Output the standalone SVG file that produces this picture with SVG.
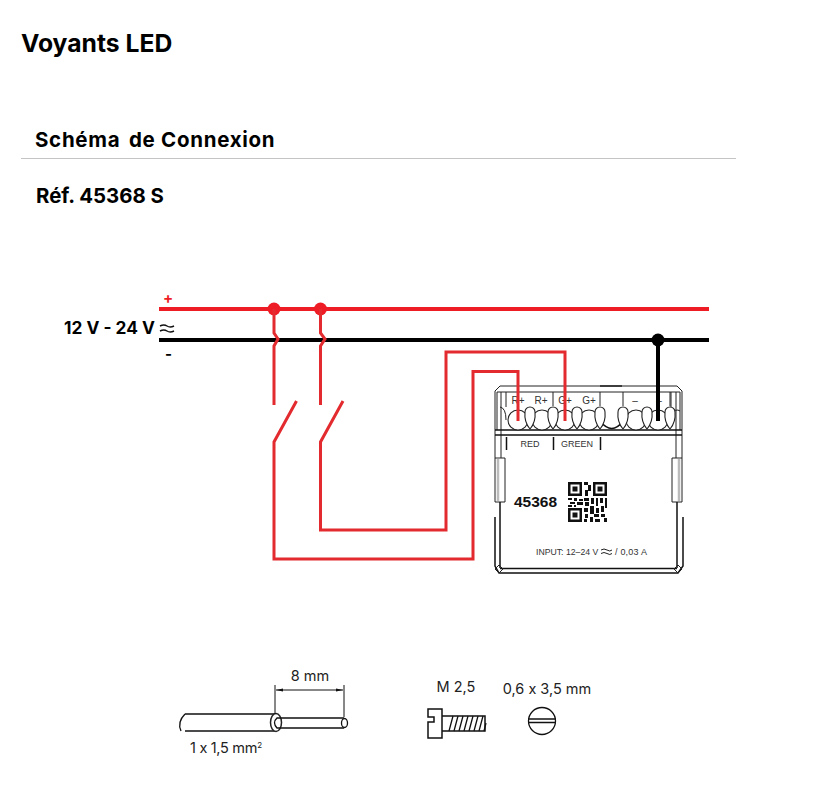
<svg xmlns="http://www.w3.org/2000/svg" width="816" height="800" viewBox="0 0 816 800">
<style>
text{font-family:"Lato","Inter","Liberation Sans",sans-serif;fill:#000}
.t{font-family:"Inter","Liberation Sans",sans-serif;font-weight:700}
.d{font-family:"Liberation Sans",sans-serif;fill:#333}
.s{font-family:"Inter","Liberation Sans",sans-serif;font-variant-ligatures:no-contextual;font-feature-settings:"calt" 0;fill:#222}
.rt{fill:none;stroke:#e32a2e;stroke-width:3}
.o{fill:none;stroke:#222;stroke-width:1}
.o2{fill:none;stroke:#111;stroke-width:1.500}
.a{fill:#fff;stroke:#222;stroke-width:1.100}
</style>
<rect width="816" height="800" fill="#fff"/>
<g id="titles">
<text class="t" x="21" y="52" font-size="24.700">Voyants LED</text>
<text class="t" x="35" y="147" font-size="20.500" letter-spacing="0.700">Schéma</text>
<text class="t" x="129" y="147" font-size="20.500" letter-spacing="0.700">de Connexion</text>
<line x1="21" y1="158.500" x2="736" y2="158.500" stroke="#c4c4c4"/>
<text class="t" x="36" y="203" font-size="20.400">Réf. 45368 S</text>
</g>
<g id="supply">
<text class="t" x="163" y="303" font-size="15" style="fill:#ee1c25">+</text>
<text class="t" x="64" y="334" font-size="17.300">12 V - 24 V</text>
<path class="o2" d="M160 326q4-2 7 0t7 0M160 331q4-2 7 0t7 0"/>
<text class="t" x="165" y="359" font-size="15">-</text>
</g>
<g id="device">
<path class="o" d="M500 386H677L682 391V430M495 391L500 386M495 391V458M682 458V430"/>
<path class="o" d="M497 392H680M497 392V430M680 392V430M501 392V458M676 392V458M506 392V407M671 392V407"/>
<path class="o2" d="M495 430H682M495 435H682"/>
<path class="o" d="M495 458H505V502H495ZM682 458H672V502H682Z"/>
<path d="M498 459V501M679 459V501" stroke="#bbb" stroke-width="2.500" fill="none"/>
<path class="o2" d="M500 502V568M677 502V568M495 517V566L499 573H678L683 566V517M500 568.500H677"/>
<path class="o" d="M495 569L499 565L503 569L499 573ZM682 569L678 565L674 569L678 573Z"/>
<path class="o" d="M500 407Q506 408 506 420M680 411Q676 408 671 414"/>
<path class="o2" d="M600 421Q612 436 623 421" fill="none"/>
<circle class="a" cx="518" cy="420" r="10"/><circle class="a" cx="542" cy="420" r="10"/><circle class="a" cx="565" cy="420" r="10"/><circle class="a" cx="589" cy="420" r="10"/><circle class="a" cx="636" cy="420" r="10"/><circle class="a" cx="658" cy="420" r="10"/>
<path class="a" d="M525 412a5 5 0 0 1 10 0Q536 422 530 429Q524 422 525 412ZM548 412a5 5 0 0 1 10 0Q559 422 553 429Q547 422 548 412ZM572 412a5 5 0 0 1 10 0Q583 422 577 429Q571 422 572 412ZM595 412a5 5 0 0 1 10 0Q606 422 600 429Q594 422 595 412ZM618 412a5 5 0 0 1 10 0Q629 422 623 429Q617 422 618 412ZM642 412a5 5 0 0 1 10 0Q653 422 647 429Q641 422 642 412ZM665 412a5 5 0 0 1 10 0Q676 422 670 429Q664 422 665 412Z"/>
<path class="o" d="M553 392V406M600 392V406M623 392V406M670 392V406"/>
<path d="M600 386H622" stroke="#222" stroke-width="1.500"/>
<g style="font-size:10px">
<text class="d" x="518" y="404" text-anchor="middle">R+</text>
<text class="d" x="541" y="404" text-anchor="middle">R+</text>
<text class="d" x="565" y="404" text-anchor="middle">G+</text>
<text class="d" x="589" y="404" text-anchor="middle">G+</text>
<text class="d" x="635" y="404" text-anchor="middle">–</text>
<text class="d" x="659" y="404" text-anchor="middle">–</text>
<text class="d" x="530" y="447" text-anchor="middle" style="font-size:9px">RED</text>
<text class="d" x="577" y="447" text-anchor="middle" style="font-size:9px">GREEN</text>
</g>
<path d="M506.500 437V450M553.500 437V450M600.500 437V450" stroke="#111" stroke-width="1.500" fill="none"/>
<text x="514" y="507" font-size="15.500" style="font-family:'Liberation Sans';font-weight:700;fill:#111">45368</text>
<g id="qr" fill="#111">
<path fill-rule="evenodd" d="M568 482h14v14h-14zM570.500 484.500v9h9v-9zM593 482h14v14h-14zM595.500 484.500v9h9v-9zM568 508h14v14h-14zM570.500 510.500v9h9v-9z"/>
<path d="M572.500 486.500h5v5h-5zM597.500 486.500h5v5h-5zM572.500 512.500h5v5h-5z"/>
<path d="M584 482h4v3h-4zM588 485h3v6h-3zM585 490h3v6h-3zM584 498h5v3h-5zM568 498h4v2h-4zM574 498h3v3h-3zM579 499h4v2h-4zM591 498h3v6h-3zM596 498h2v8h-2zM600 498h3v5h-3zM605 498h2v10h-2zM570 502h5v2h-5zM577 502h6v3h-6zM585 502h4v4h-4zM568 505h4v2h-4zM574 505h2v2h-2zM584 508h4v4h-4zM590 506h4v8h-4zM596 508h3v5h-3zM601 506h3v6h-3zM585 514h3v4h-3zM594 514h5v3h-5zM601 514h4v3h-4zM584 519h3v3h-3zM590 517h3v5h-3zM595 519h5v3h-5zM604 518h3v4h-3z"/>
</g>
<text class="d" x="536" y="555" font-size="8.700">INPUT: 12–24 V</text>
<path d="M601 550q3-2 6 0t5 0M601 553.500q3-2 6 0t5 0" fill="none" stroke="#222"/>
<text class="d" x="615" y="555" font-size="9" letter-spacing="0.200">/ 0,03 A</text>
</g>
<g id="connectors">
<line x1="159" y1="309" x2="709" y2="309" stroke="#ee1c25" stroke-width="4"/>
<line x1="159" y1="340" x2="709" y2="340" stroke="#000" stroke-width="4"/>
<circle cx="274" cy="309" r="6.500" fill="#ee1c25"/>
<circle cx="320.500" cy="309" r="6.500" fill="#ee1c25"/>
<circle cx="658" cy="340" r="6.500" fill="#000"/>
<path class="rt" d="M274 309V333L278 339L274 346V405M320.500 309V333L325 339L320.500 346V405"/>
<path class="rt" d="M296.500 401L274 442V559H473V371.500H518V421M343 401L320.500 442V530H446V352H565V421"/>
<path d="M658 340V421" fill="none" stroke="#000" stroke-width="4"/>
</g>
<g id="wire">
<text class="s" x="310" y="681" font-size="14.500" text-anchor="middle">8 mm</text>
<path d="M185 714H275M185 731H275" stroke="#111" stroke-width="1.500" fill="none"/>
<path d="M185 714Q177 722 181 731" fill="none" stroke="#111" stroke-width="1.300"/>
<ellipse cx="276" cy="722.500" rx="5.500" ry="9" fill="#fff" stroke="#222" stroke-width="1.500"/>
<path d="M344 718H277Q272 722.500 277 728H344" fill="none" stroke="#111" stroke-width="1.300"/>
<ellipse cx="344.500" cy="723" rx="3" ry="4.500" fill="#fff" stroke="#111" stroke-width="1.300"/>
<path d="M275 685V714M344 685V717M276 690H343" fill="none" stroke="#111"/>
<path d="M276 690l7-1.500v3zM343 690l-7-1.500v3z" fill="#111"/>
<text class="s" x="190" y="753" font-size="14.500" letter-spacing="-0.300">1 x 1,5 mm<tspan font-size="8" dy="-5">2</tspan></text>
</g>
<g id="screw">
<text class="s" x="456" y="692" font-size="14.500" text-anchor="middle">M 2,5</text>
<text class="s" x="547" y="694" font-size="14.500" text-anchor="middle">0,6 x 3,5 mm</text>
<path class="o2" d="M442 709H428V717H434V722H428V738H442V709ZM442 716H485V731H442"/>
<path d="M449 731l4-15M454 731l4-15M459 731l4-15M464 731l4-15M469 731l4-15M474 731l4-15M479 731l4-15M484 731l2-8" stroke="#111" stroke-width="1.300" fill="none"/>
<circle cx="542" cy="721" r="13.500" fill="#fff" stroke="#111" stroke-width="1.300"/>
<path d="M528 719H556M528 722.500H556" stroke="#111" stroke-width="1.500"/>
</g>
</svg>
